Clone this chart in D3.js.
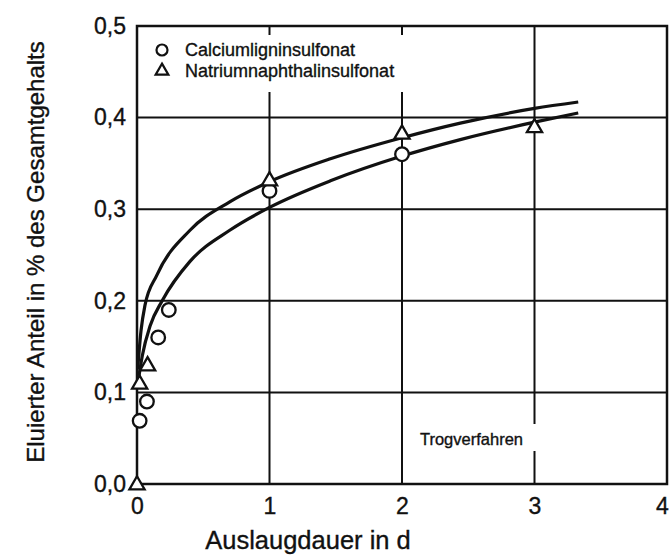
<!DOCTYPE html>
<html><head><meta charset="utf-8">
<script src="https://cdn.jsdelivr.net/npm/d3@7"></script>
<style>body{margin:0;background:#fff}svg{display:block}text{font-family:"Liberation Sans",Arial,sans-serif;fill:#111;stroke:#111;stroke-width:0.35px}</style>
</head><body><svg id="c" width="672" height="559"></svg>
<script>
// data
const xTicks = [0,1,2,3,4];
const yTicks = [0,0.1,0.2,0.3,0.4,0.5];
const calciumX = [0.02,0.075,0.16,0.24,1,2];
const calciumY = [0.069,0.09,0.16,0.19,0.32,0.36];
const natriumX = [0,0.02,0.08,1,2,3];
const natriumY = [0,0.11,0.13,0.332,0.383,0.39];
// fitted curves
const curveUpperX = [0.005,0.03,0.06,0.15,0.4,0.7,1,1.46,2,2.44,3,3.33];
const curveUpperY = [0.125,0.167,0.195,0.228,0.277,0.308,0.33,0.355,0.378,0.394,0.41,0.417];
const curveLowerX = [0.015,0.04,0.1,0.19,0.4,0.7,1,1.46,2,2.44,3,3.33];
const curveLowerY = [0.118,0.14,0.173,0.2,0.243,0.277,0.302,0.331,0.358,0.376,0.395,0.405];
const seriesNames = ["Calciumligninsulfonat","Natriumnaphthalinsulfonat"];
const annotation = "Trogverfahren";

const svg = d3.select("#c");
const x = d3.scaleLinear().domain([0,4]).range([137,667]);
const y = d3.scaleLinear().domain([0,0.5]).range([484,26]);
const fmt = d => d3.format(".1f")(d).replace(".", ",");

// gridlines
const g = svg.append("g").attr("stroke","#111").attr("stroke-width",2);
g.selectAll(".h").data(yTicks.slice(1,5)).enter().append("line")
  .attr("x1",x(0)).attr("x2",x(4)).attr("y1",d=>y(d)).attr("y2",d=>y(d));
g.selectAll(".v").data(xTicks.slice(1,4)).enter().append("line")
  .attr("y1",y(0)).attr("y2",y(0.5)).attr("x1",d=>x(d)).attr("x2",d=>x(d));

// white background behind legend and annotation
svg.append("rect").attr("x",150).attr("y",35).attr("width",262).attr("height",57).attr("fill","#fff");
svg.append("rect").attr("x",415).attr("y",424).attr("width",123).attr("height",27).attr("fill","#fff");

// frame
svg.append("rect").attr("x",x(0)).attr("y",y(0.5)).attr("width",x(4)-x(0)).attr("height",y(0)-y(0.5))
  .attr("fill","none").attr("stroke","#111").attr("stroke-width",2.5);

// axes labels via d3 axes (no lines)
const ax = svg.append("g").attr("transform",`translate(0,${y(0)})`)
  .call(d3.axisBottom(x).tickValues(xTicks).tickSize(0).tickPadding(14).tickFormat(d3.format("d")));
ax.select(".domain").remove();
ax.selectAll("text").attr("font-size",23).attr("font-family","Liberation Sans, Arial, sans-serif").attr("fill","#111")
  .attr("dx",d=>d===4?-5:0);
const ay = svg.append("g").attr("transform",`translate(${x(0)},0)`)
  .call(d3.axisLeft(y).tickValues(yTicks).tickSize(0).tickPadding(11).tickFormat(fmt));
ay.select(".domain").remove();
ay.selectAll("text").attr("font-size",23).attr("font-family","Liberation Sans, Arial, sans-serif").attr("fill","#111");

// curves
const line = d3.line().x(d=>x(d[0])).y(d=>y(d[1])).curve(d3.curveMonotoneX);
[[curveUpperX,curveUpperY],[curveLowerX,curveLowerY]].forEach(([xs,ys])=>{
  svg.append("path").datum(xs.map((v,i)=>[v,ys[i]])).attr("d",line)
    .attr("fill","none").attr("stroke","#111").attr("stroke-width",3.2);
});

// markers
const tri = d3.symbol().type(d3.symbolTriangle).size(100);
svg.selectAll(".c").data(calciumX.map((v,i)=>[v,calciumY[i]])).enter().append("circle")
  .attr("cx",d=>x(d[0])).attr("cy",d=>y(d[1])).attr("r",6.8)
  .attr("fill","#fff").attr("stroke","#111").attr("stroke-width",2.3);
svg.selectAll(".t").data(natriumX.map((v,i)=>[v,natriumY[i]])).enter().append("path")
  .attr("d",tri).attr("transform",d=>`translate(${x(d[0])},${y(d[1])+1})`)
  .attr("fill","#fff").attr("stroke","#111").attr("stroke-width",2.3);

// legend
svg.append("circle").attr("cx",162).attr("cy",50).attr("r",5.5).attr("fill","#fff").attr("stroke","#111").attr("stroke-width",2.2);
svg.append("path").attr("d",d3.symbol().type(d3.symbolTriangle).size(70)).attr("transform","translate(162,71)")
  .attr("fill","#fff").attr("stroke","#111").attr("stroke-width",2.2);
svg.append("text").attr("x",185).attr("y",56).attr("font-size",18).text(seriesNames[0]);
svg.append("text").attr("x",185).attr("y",77).attr("font-size",18).text(seriesNames[1]);

// annotation
svg.append("text").attr("x",523).attr("y",445).attr("text-anchor","end").attr("font-size",16.5).text(annotation);

// titles
svg.append("text").attr("x",308).attr("y",549).attr("text-anchor","middle").attr("font-size",25.5).text("Auslaugdauer in d");
svg.append("text").attr("transform","translate(44,252) rotate(-90)").attr("text-anchor","middle").attr("font-size",24)
  .text("Eluierter Anteil in % des Gesamtgehalts");
</script></body></html>
